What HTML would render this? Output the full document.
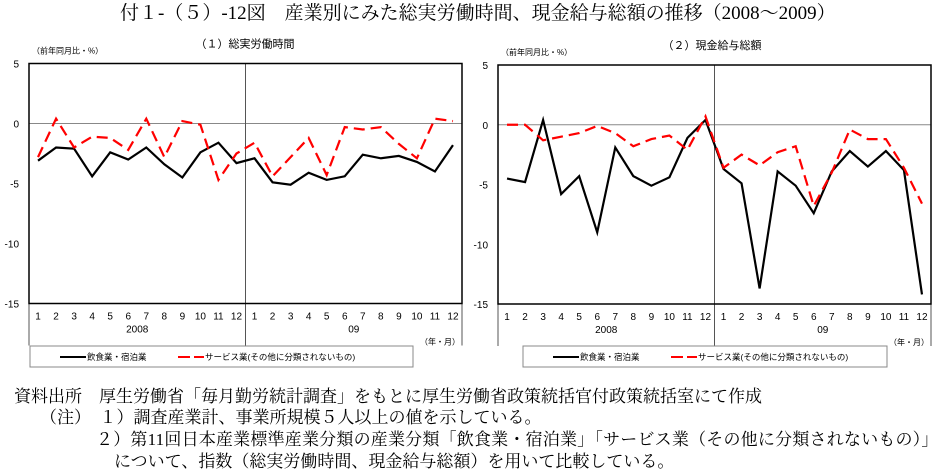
<!DOCTYPE html>
<html><head><meta charset="utf-8"><style>
body{margin:0;background:#fff;width:932px;height:475px;overflow:hidden;position:relative;font-family:"Liberation Serif","Noto Serif CJK JP",serif;}
.t{position:absolute;white-space:nowrap;color:#000;line-height:1;}
svg text{font-family:"Liberation Sans","Noto Sans CJK JP",sans-serif;}
</style></head><body>
<div class="t" style="left:120px;top:4px;font-size:19px;">付１-（５）-12図　産業別にみた総実労働時間、現金給与総額の推移（2008～2009）</div>
<svg id="s" width="932" height="475" style="position:absolute;left:0;top:0"></svg>
<div class="t" style="left:14px;top:388px;font-size:17px;">資料出所　厚生労働省「毎月勤労統計調査」をもとに厚生労働省政策統括官付政策統括室にて作成</div>
<div class="t" style="left:40px;top:409px;font-size:17px;">（注）　１）調査産業計、事業所規模５人以上の値を示している。</div>
<div class="t" style="left:96px;top:431px;font-size:17px;letter-spacing:0.2px;">２）第11回日本産業標準産業分類の産業分類「飲食業・宿泊業」「サービス業（その他に分類されないもの）」</div>
<div class="t" style="left:114px;top:453px;font-size:17px;">について、指数（総実労働時間、現金給与総額）を用いて比較している。</div>
<script>
const months=[1,2,3,4,5,6,7,8,9,10,11,12,1,2,3,4,5,6,7,8,9,10,11,12];
const years=["2008","09"];
const yTicks=[5,0,-5,-10,-15];
const hoursFood=[-3.1,-2.0,-2.1,-4.4,-2.4,-3.0,-2.0,-3.4,-4.5,-2.4,-1.6,-3.3,-2.9,-4.9,-5.1,-4.1,-4.7,-4.4,-2.6,-2.9,-2.7,-3.2,-4.0,-1.8];
const hoursService=[-2.8,0.4,-2.0,-1.1,-1.2,-2.2,0.4,-2.8,0.2,-0.1,-4.7,-2.5,-1.6,-4.4,-2.8,-1.2,-4.3,-0.3,-0.5,-0.3,-1.7,-2.9,0.4,0.2];
const payFood=[-4.5,-4.8,0.4,-5.8,-4.3,-9.0,-1.9,-4.3,-5.1,-4.4,-1.1,0.4,-3.7,-4.9,-13.7,-3.9,-5.1,-7.4,-3.9,-2.2,-3.5,-2.2,-3.8,-14.2];
const payService=[0,0,-1.3,-1.0,-0.7,-0.1,-0.7,-1.8,-1.2,-0.9,-2.1,0.7,-3.6,-2.5,-3.4,-2.3,-1.8,-6.8,-4.0,-0.4,-1.2,-1.2,-3.6,-6.6];
const NS="http://www.w3.org/2000/svg";
const svg=document.getElementById('s');
function mk(tag,attrs,parent){const e=document.createElementNS(NS,tag);for(const k in attrs)e.setAttribute(k,attrs[k]);(parent||svg).appendChild(e);return e;}
function chart(px,py,pw,ph,title,title2x,food,service,key,legX,legW){
  const g=mk('g',{});
  
  
  const y=v=>py+(5-v)/20*ph;
  const step=pw/24;
  const x=i=>px+step*(i+0.5);
  const tt=mk('text',{x:title2x,y:py-16,'font-size':11,'text-anchor':'middle'},g);tt.textContent=title;
  
  
  const u=mk('text',{x:px+3,y:py-10,'font-size':8},g);u.textContent='（前年同月比・%）';
  
  
  yTicks.forEach(v=>{const t=mk('text',{x:px-10,y:y(v)+4,'font-size':10,'text-anchor':'end'},g);t.textContent=v;
    
    });
  mk('line',{x1:px,x2:px+pw,y1:y(0),y2:y(0),stroke:'#888','stroke-width':1},g);
  mk('line',{x1:px+pw/2,x2:px+pw/2,y1:py,y2:py+ph+42,stroke:'#555','stroke-width':1},g);
  mk('line',{x1:px,x2:px,y1:py+ph,y2:py+ph+42,stroke:'#555','stroke-width':1},g);
  mk('line',{x1:px+pw,x2:px+pw,y1:py+ph,y2:py+ph+42,stroke:'#555','stroke-width':1},g);
  const b=mk('rect',{x:px,y:py,width:pw,height:ph,fill:'none',stroke:'#000','stroke-width':1.5},g);
  
  
  months.forEach((m,i)=>{const t=mk('text',{x:x(i),y:py+ph+16,'font-size':10,'text-anchor':'middle'},g);t.textContent=m;
    
    });
  years.forEach((yr,k)=>{const t=mk('text',{x:px+pw/4+k*pw/2,y:py+ph+29,'font-size':10,'text-anchor':'middle'},g);t.textContent=yr;
    
    });
  const a=mk('text',{x:px+pw-2,y:py+ph+41,'font-size':8,'text-anchor':'end'},g);a.textContent='（年・月）';
  
  
  const lf=mk('polyline',{points:food.map((v,i)=>x(i)+','+y(v)).join(' '),fill:'none',stroke:'#000','stroke-width':2.2},g);
  
  
  const ls=mk('polyline',{points:service.map((v,i)=>x(i)+','+y(v)).join(' '),fill:'none',stroke:'#f00','stroke-width':2.2,'stroke-dasharray':'11,6'},g);
  
  
  const lg=mk('g',{},g);
  
  
  mk('rect',{x:legX,y:346,width:legW,height:21,fill:'#fff',stroke:'#888','stroke-width':1},lg);
  mk('line',{x1:legX+30,x2:legX+56,y1:357,y2:357,stroke:'#000','stroke-width':2},lg);
  const t1=mk('text',{x:legX+57,y:360,'font-size':8.5},lg);t1.textContent='飲食業・宿泊業';
  
  
  mk('line',{x1:legX+148,x2:legX+174,y1:357,y2:357,stroke:'#f00','stroke-width':2,'stroke-dasharray':'12,4'},lg);
  const t2=mk('text',{x:legX+175,y:360,'font-size':8.5},lg);t2.textContent='サービス業(その他に分類されないもの)';
  
  
}
chart(29,63.5,433,240,'（１）総実労働時間',245,hoursFood,hoursService,'hours',30,383);
chart(498,65,433,239,'（２）現金給与総額',712,payFood,payService,'pay',523,364);
</script>
</body></html>
